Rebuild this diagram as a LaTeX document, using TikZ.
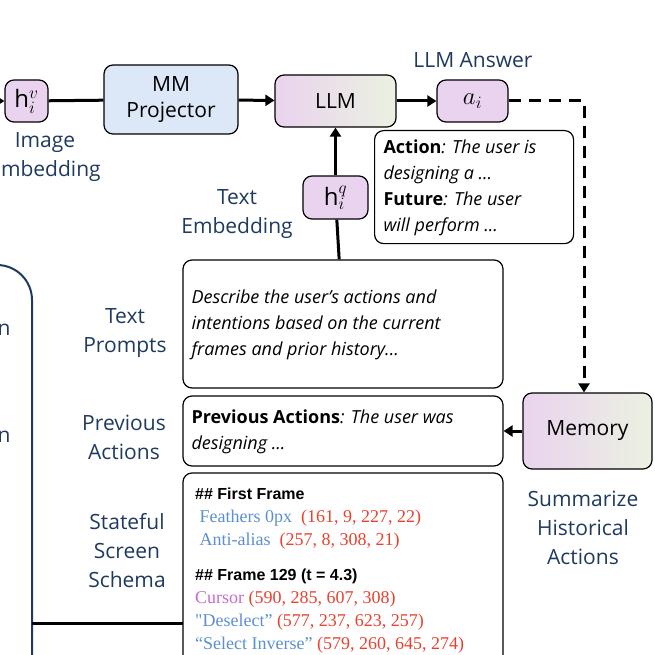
\documentclass[tikz,border=0pt]{standalone}
\usepackage{fontspec}
\setmainfont{Open Sans}
\newfontfamily\ser{Liberation Serif}
\newfontfamily\ars{Liberation Sans}
\usetikzlibrary{arrows.meta}
\definecolor{lab}{HTML}{1F3A5F}
\definecolor{pk}{HTML}{EAD3EE}
\definecolor{bl}{HTML}{DCE8F7}
\definecolor{gr}{HTML}{EBF1E2}
\definecolor{rd}{HTML}{E8412E}
\definecolor{sb}{HTML}{5B8FD0}
\definecolor{mg}{HTML}{C46BD0}
\begin{document}
\begin{tikzpicture}[x=1pt,y=-1pt,
 box/.style={draw=black,line width=1.2pt,rounded corners=9pt},
 lbl/.style={text=lab,font=\fontsize{21}{29}\selectfont,align=center},
 arr/.style={line width=3pt,-{Triangle[length=9pt,width=11pt]}},
 ln/.style={line width=3pt}]
\useasboundingbox (0,0) rectangle (655,655);
\begin{scope}
\clip (0,0) rectangle (655,655);
\draw[draw=lab,line width=2pt,rounded corners=35pt] (-60,265) -- (32,265) -- (32,700);
\node[lbl,anchor=west] (n1) at (-6,330) {n};
\node[lbl,anchor=west] (n2) at (-6,437) {n};
\node[lbl] (ie) at (45,157) {Image\\Embedding};
\coordinate (lft) at (-2,101);
\coordinate (lft2) at (32,623);
\end{scope}
\node[box,fill=pk,minimum width=43pt,minimum height=42pt] (hv) at (26.5,101) {\fontsize{24}{24}\selectfont $\mathrm{h}_i^{v}$};
\node[box,fill=bl,minimum width=134pt,minimum height=69pt,align=center,font=\fontsize{21}{26}\selectfont] (mm) at (171,99.5) {MM\\Projector};
\node[box,left color=pk,right color=gr,minimum width=121pt,minimum height=52pt,font=\fontsize{21}{24}\selectfont] (llm) at (335.5,101) {LLM};
\node[box,fill=pk,minimum width=71pt,minimum height=42pt] (ai) at (472.5,101) {\fontsize{26}{24}\selectfont $a_i$};
\node[lbl] (la) at (473,60) {LLM Answer};
\node[box,minimum width=199pt,minimum height=113pt,anchor=north west,inner sep=0pt] (act) at (374,130) {};
\node[anchor=north west,align=left,font=\fontsize{18}{26}\selectfont] (actt) at (380,136) {\textbf{Action}\textit{: The user is}\\\textit{designing a ...}\\\textbf{Future}\textit{: The user}\\\textit{will perform ...}};
\node[lbl] (te) at (237,214) {Text\\Embedding};
\node[box,fill=pk,minimum width=65pt,minimum height=43pt] (hq) at (335.5,197.5) {\fontsize{24}{24}\selectfont $\mathrm{h}_i^{q}$};
\node[box,minimum width=320pt,minimum height=128pt] (tp) at (343,324) {};
\node[anchor=west,align=left,font=\fontsize{18}{26}\selectfont\itshape] (tpt) at (188,325) {Describe the user’s actions and\\intentions based on the current\\frames and prior history...};
\node[box,minimum width=320pt,minimum height=70pt] (pa) at (343,431) {};
\node[anchor=west,align=left,font=\fontsize{18}{26}\selectfont] (pat) at (188,432) {\textbf{Previous Actions}\textit{: The user was}\\\textit{designing ...}};
\node[box,left color=pk,right color=gr,minimum width=129pt,minimum height=76pt,font=\fontsize{21}{24}\selectfont] (mem) at (587.5,431) {Memory};
\node[lbl] (sh) at (583,528) {Summarize\\Historical\\Actions};
\node[lbl] (ltp) at (125,333) {Text\\Prompts};
\node[lbl] (lpa) at (124,437) {Previous\\Actions};
\node[lbl] (lss) at (127,551) {Stateful\\Screen\\Schema};
\begin{scope}
\clip (0,0) rectangle (655,655);
\draw[box] (183,720) -- (183,473) -- (503,473) -- (503,720);
\node[anchor=north west,align=left,inner sep=0pt,font=\fontsize{18}{23}\selectfont] (sc) at (195,488) {%
{\ars\bfseries\fontsize{16}{23}\selectfont \#\# First Frame}\\
\ser\ \textcolor{sb}{Feathers 0px}\ \ \textcolor{rd}{(161, 9, 227, 22)}\\
\ser\ \textcolor{sb}{Anti-alias}\ \ \textcolor{rd}{(257, 8, 308, 21)}\\[12pt]
{\ars\bfseries\fontsize{16}{23}\selectfont \#\# Frame 129 (t = 4.3)}\\
\ser\textcolor{mg}{Cursor} \textcolor{rd}{(590, 285, 607, 308)}\\
\ser\textcolor{sb}{"Deselect”} \textcolor{rd}{(577, 237, 623, 257)}\\
\ser\textcolor{sb}{“Select Inverse”} \textcolor{rd}{(579, 260, 645, 274)}};
\draw[ln] (lft2) -- (183,623);
\draw[arr] (lft) -- (hv);
\end{scope}
\draw[ln] (hv) -- (mm);
\draw[arr] (mm) -- (llm);
\draw[arr] (llm) -- (ai);
\draw[arr] (hq) -- (llm);
\draw[ln] (hq) -- (tp);
\draw[line width=3pt,dash pattern=on 12pt off 8pt,-{Triangle[length=9pt,width=11pt]}] (ai.east) -- (584,101) -- (mem.north -| 584,0);
\draw[arr] (mem) -- (pa);
\end{tikzpicture}
\end{document}
